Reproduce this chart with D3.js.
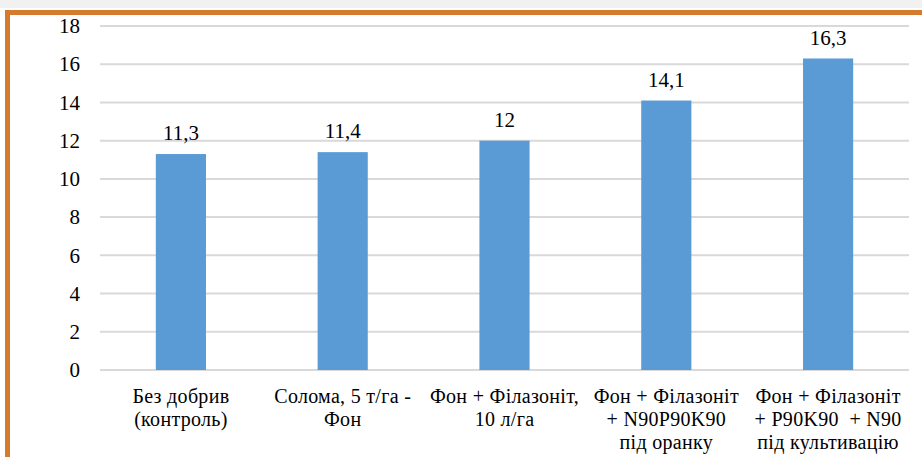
<!DOCTYPE html>
<html>
<head>
    <meta charset="UTF-8">
    <style>
        html, body { margin: 0; padding: 0; background: #fff; }
        svg { display: block; }
        svg text { font-family: "Liberation Serif", "Times New Roman", Times, serif; }
    </style>
</head>
<body>
    <script src="https://d3js.org/d3.v7.min.js"></script>
    <script>
        // дані
        const categories = [
            ["Без добрив", "(контроль)"],
            ["Солома, 5 т/га -", "Фон"],
            ["Фон + Філазоніт,", "10 л/га"],
            ["Фон + Філазоніт", "+ N90P90K90", "під оранку"],
            ["Фон + Філазоніт", "+ P90K90  + N90", "під культивацію"]
        ];
        const values = [11.3, 11.4, 12, 14.1, 16.3];
        const valueLabels = ["11,3", "11,4", "12", "14,1", "16,3"];
        const yTicks = [0, 2, 4, 6, 8, 10, 12, 14, 16, 18];

        const W = 922, H = 457;
        const margin = { top: 26, right: 13, bottom: 87, left: 100 };
        const width = W - margin.left - margin.right;
        const height = H - margin.top - margin.bottom;

        const svg = d3.select("body")
            .append("svg")
            .attr("width", W)
            .attr("height", H);

        // рамка
        svg.append("rect").attr("x", 0).attr("y", 0).attr("width", W).attr("height", 8).attr("fill", "#f1f1f1");
        svg.append("rect").attr("x", 5).attr("y", 10).attr("width", W - 5).attr("height", 5).attr("fill", "#d67a2e");
        svg.append("rect").attr("x", 5).attr("y", 10).attr("width", 5).attr("height", H - 10).attr("fill", "#d67a2e");

        const g = svg.append("g")
            .attr("transform", `translate(${margin.left},${margin.top})`);

        const x = d3.scaleBand()
            .domain(d3.range(categories.length))
            .range([0, width])
            .paddingInner(0.69)
            .paddingOuter(0.345);

        const y = d3.scaleLinear()
            .domain([0, 18])
            .range([height, 0]);

        // сітка
        g.append("g")
            .selectAll("line")
            .data(yTicks)
            .enter()
            .append("line")
            .attr("x1", 0)
            .attr("x2", width)
            .attr("y1", d => y(d))
            .attr("y2", d => y(d))
            .attr("stroke", "#d9d9d9")
            .attr("stroke-width", 2);

        // вісь Y
        const yAxis = g.append("g")
            .call(d3.axisLeft(y).tickValues(yTicks).tickSize(0).tickPadding(20))
            .attr("font-family", null)
            .attr("font-size", null);
        yAxis.select(".domain").remove();
        yAxis.selectAll("text")
            .attr("font-family", "Liberation Serif")
            .attr("font-size", 21)
            .attr("fill", "#000");

        // стовпці
        g.selectAll(".bar")
            .data(values)
            .enter()
            .append("rect")
            .attr("class", "bar")
            .attr("x", (d, i) => x(i))
            .attr("y", d => y(d))
            .attr("width", x.bandwidth())
            .attr("height", d => height - y(d))
            .attr("fill", "#5b9bd5");

        // підписи значень
        g.selectAll(".label")
            .data(values)
            .enter()
            .append("text")
            .attr("class", "label")
            .attr("x", (d, i) => x(i) + x.bandwidth() / 2)
            .attr("y", d => y(d) - 14)
            .attr("text-anchor", "middle")
            .attr("font-family", "Liberation Serif")
            .attr("font-size", 21)
            .attr("fill", "#000")
            .text((d, i) => valueLabels[i]);

        // підписи категорій
        const cat = g.selectAll(".cat")
            .data(categories)
            .enter()
            .append("text")
            .attr("class", "cat")
            .attr("text-anchor", "middle")
            .attr("font-family", "Liberation Serif")
            .attr("font-size", 20)
            .attr("letter-spacing", 0.3)
            .attr("fill", "#000")
            .attr("transform", (d, i) => `translate(${x(i) + x.bandwidth() / 2},${height + 33})`);

        cat.selectAll("tspan")
            .data(d => d)
            .enter()
            .append("tspan")
            .attr("x", 0)
            .attr("y", (d, j) => j * 23)
            .style("white-space", "pre")
            .text(d => d);
    </script>
</body>
</html>
